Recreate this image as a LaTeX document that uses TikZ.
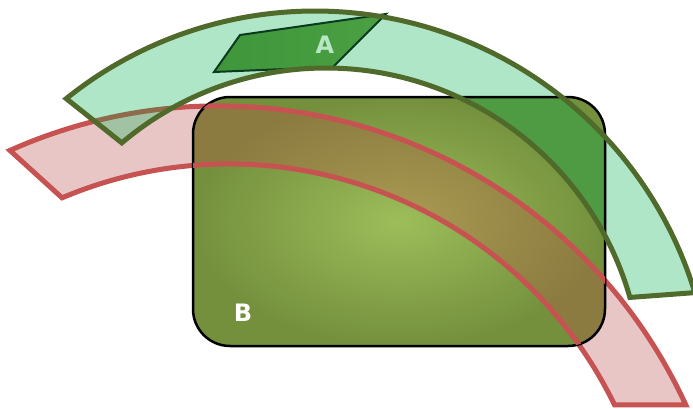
\documentclass[tikz,border=0pt]{standalone}
\usepackage{fontspec}
\setsansfont{DejaVu Sans}
\definecolor{bandgreen}{HTML}{B0E6C8}
\definecolor{bandgreenline}{HTML}{4F6A2A}
\definecolor{bandred}{HTML}{E9C6C6}
\definecolor{bandredline}{HTML}{C65252}
\definecolor{overlapgreen}{HTML}{A2C3A3}
\definecolor{redunder}{HTML}{8E6B4A}
\definecolor{boxlight}{HTML}{9DBD5A}
\definecolor{boxdark}{HTML}{74903D}
\definecolor{brownlight}{HTML}{A99A52}
\definecolor{browndark}{HTML}{8B7B40}
\definecolor{boxgreen}{HTML}{4F9B44}
\definecolor{quadleft}{HTML}{3F963B}
\definecolor{quadmid}{HTML}{69B653}
\definecolor{quadright}{HTML}{4AA042}
\definecolor{quadline}{HTML}{0B3A1E}
\definecolor{labelgreen}{HTML}{B8E6C6}
\newcommand\greenarc{([shift={(315,0)}]128.8:397) arc[start angle=128.8,end angle=16.9,radius=397]
  -- ([shift={(326,24)}]15.9:316) arc[start angle=15.9,end angle=130.25,radius=316] -- cycle}
\newcommand\redarc{([shift={(219,-212)}]114:514) arc[start angle=114,end angle=24.73,radius=514]
  -- ([shift={(229,-185)}]26:429) arc[start angle=26,end angle=112.9,radius=429] -- cycle}
\newcommand\boxB{[rounded corners=37pt] (193,62) rectangle (605,311)}
\begin{document}
\begin{tikzpicture}[x=1pt,y=1pt,
  greenline/.style={draw=bandgreenline,line width=5pt},
  redline/.style={draw=bandredline,line width=5pt},
  letter/.style={font=\fontsize{24}{24}\selectfont\sffamily\bfseries,inner sep=0pt}]
\useasboundingbox (0,0) rectangle (693,408);
 \fill[bandred] \redarc;
 \draw[redline] \redarc;
 \fill[bandgreen] \greenarc;
 \begin{scope}
  \clip \greenarc;
  \fill[overlapgreen] \redarc;
  \draw[redline,draw=redunder] \redarc;
 \end{scope}
 \shade[inner color=boxlight,outer color=boxdark] \boxB;
 \begin{scope}
  \clip \boxB;
  \begin{scope}
   \clip \redarc;
   \shade[inner color=brownlight,outer color=browndark] \boxB;
  \end{scope}
  \fill[boxgreen] \greenarc;
 \end{scope}
 \draw[line width=2.5pt] \boxB;
 \begin{scope}
  \clip \boxB;
  \draw[redline] \redarc;
 \end{scope}
 \draw[draw=quadline,line width=2pt,left color=quadleft,middle color=quadmid,right color=quadright]
	(214,336) -- (240,373) -- (386,394) -- (333,341) -- cycle;
 \draw[greenline] \greenarc;
 \node[letter,text=labelgreen] (labelA) at (325,363) {A};
 \node[letter,text=white] (labelB) at (243,95) {B};
\end{tikzpicture}
\end{document}
